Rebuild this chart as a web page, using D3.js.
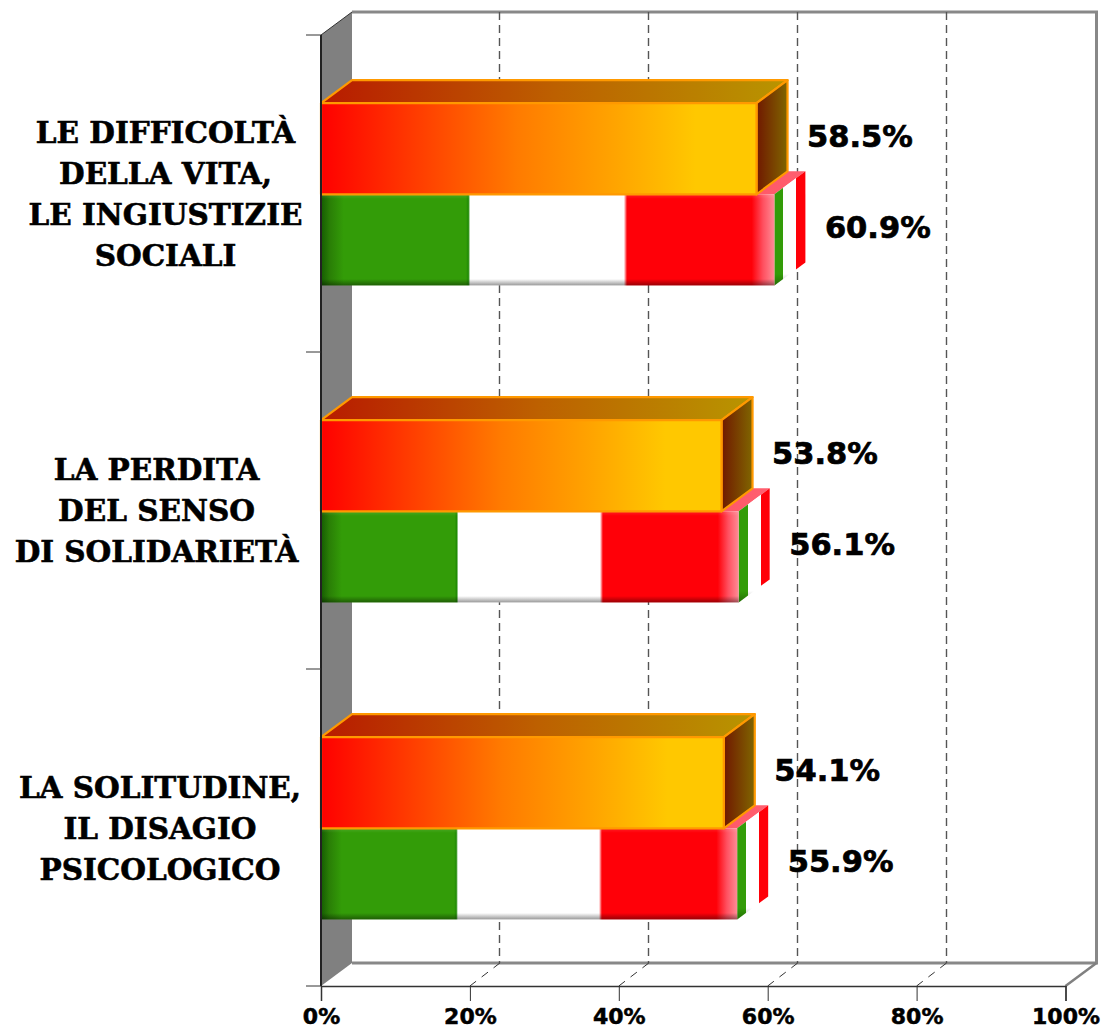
<!DOCTYPE html>
<html><head><meta charset="utf-8">
<script src="https://cdnjs.cloudflare.com/ajax/libs/d3/7.8.5/d3.min.js"></script>
<style>html,body{margin:0;padding:0;background:#fff}svg{display:block}</style>
</head><body><svg id="c" width="1103" height="1032"></svg>
<script>
const categories = ["LE DIFFICOLTÀ|DELLA VITA,|LE INGIUSTIZIE|SOCIALI", "LA PERDITA|DEL SENSO|DI SOLIDARIETÀ", "LA SOLITUDINE,|IL DISAGIO|PSICOLOGICO"];
const orangeValues = [58.5, 53.8, 54.1];
const flagValues = [60.9, 56.1, 55.9];
const tickValues = [0, 20, 40, 60, 80, 100];

const svg = d3.select("#c");
const x = d3.scaleLinear().domain([0, 100]).range([321, 1065.5]);
const y = d3.scaleBand().domain(categories).range([35, 986]);
const inner = d3.scaleBand().domain(["orange", "flag"]).range([0.8, y.step() + 0.8]).paddingInner(0).paddingOuter(0.74);
const dx = 31, dy = -23;
const defs = svg.append("defs");

function grad(id, stops, v) {
  const g = defs.append("linearGradient").attr("id", id).attr("x1", 0).attr("y1", 0).attr("x2", v ? 0 : 1).attr("y2", v ? 1 : 0);
  stops.forEach(s => g.append("stop").attr("offset", s[0]).attr("stop-color", s[1]).attr("stop-opacity", s[2] === undefined ? 1 : s[2]));
}
const G = "#339c08", R = "#ff0008";
grad("oFront", [[0, "#ff0000"], [0.45, "#ff7b00"], [0.68, "#ffa500"], [0.86, "#ffc800"], [1, "#ffc800"]]);
grad("oTop", [[0, "#b81a00"], [0.5, "#bd6000"], [1, "#b89500"]]);
grad("oSide", [[0, "#701800"], [1, "#806600"]]);
grad("flag", [[0, "#155c02"], [0.02, "#2a7f06"], [0.05, G], [0.32, G], [0.325, "#1f8a04"], [0.329, "#fff"],
  [0.668, "#fff"], [0.675, R], [0.95, R], [0.975, "#ff5060"], [1, "#ff8c96"]]);
grad("flagShade", [[0, "#fff", 0.12], [0.05, "#fff", 0], [0.93, "#000", 0], [1, "#000", 0.4]], true);
grad("flagSide", [[0, G], [0.29, G], [0.29, "#fff"], [0.71, "#fff"], [0.71, R], [1, R]]);
grad("sideShade", [[0, "#000", 0], [0.9, "#000", 0], [1, "#000", 0.3]], true);
grad("flagTop", [[0, "#ff5a68"], [0.6, "#ff4050"], [1, "#ff6070"]]);

// walls
const W0 = x(0), W1 = x(100), T = y.range()[0], B = y.range()[1];
svg.append("polygon").attr("points", [[W0, T], [W0 + dx, T + dy], [W0 + dx, B + dy], [W0, B]].join(" ")).attr("fill", "#808080");
svg.append("path").attr("d", `M${W0 + dx},${B + dy}H${W1 + dx}V${T + dy}H${W0 + dx}`).attr("fill", "none").attr("stroke", "#888").attr("stroke-width", 3);
svg.append("line").attr("x1", W1).attr("y1", B).attr("x2", W1 + dx).attr("y2", B + dy).attr("stroke", "#808080").attr("stroke-width", 2.5);
svg.append("line").attr("x1", W0).attr("y1", T).attr("x2", W0 + dx).attr("y2", T + dy).attr("stroke", "#333").attr("stroke-width", 1);

// grid
const gridVals = tickValues.filter(d => d > 0 && d < 100);
svg.append("g").selectAll("path").data(gridVals).join("path")
  .attr("d", d => `M${Math.round(x(d) + dx - 1) - 0.5},${T + dy}V${B + dy}`)
  .attr("stroke", "#555").attr("stroke-width", 1.4).attr("stroke-dasharray", "8,5").attr("fill", "none");
svg.append("g").selectAll("path").data(gridVals).join("path")
  .attr("d", d => `M${x(d) + dx - 1},${B + dy}L${x(d)},${B}`)
  .attr("stroke", "#333").attr("stroke-width", 1).attr("stroke-dasharray", "8,7").attr("fill", "none");

// bars
const rows = categories.map((c, i) => ({c, o: orangeValues[i], f: flagValues[i]}));
const g = svg.append("g").selectAll("g").data(rows).join("g");
g.each(function(d) {
  const s = d3.select(this), y0 = y(d.c);
  const fy = y0 + inner("flag"), h = inner.bandwidth(), fx = x(d.f);
  s.append("polygon").attr("points", [[W0, fy], [W0 + dx, fy + dy], [fx + dx, fy + dy], [fx, fy]].join(" ")).attr("fill", "url(#flagTop)");
  const sidePts = [[fx, fy], [fx + dx, fy + dy], [fx + dx, fy + dy + h], [fx, fy + h]].join(" ");
  s.append("polygon").attr("points", sidePts).attr("fill", "url(#flagSide)");
  s.append("polygon").attr("points", sidePts).attr("fill", "url(#sideShade)");
  s.append("rect").attr("x", W0).attr("y", fy).attr("width", fx - W0).attr("height", h).attr("fill", "url(#flag)");
  s.append("rect").attr("x", W0).attr("y", fy).attr("width", fx - W0).attr("height", h).attr("fill", "url(#flagShade)");
  const oy = y0 + inner("orange"), ox = x(d.o);
  const st = {stroke: "#ff9900", "stroke-width": 2.2, "stroke-linejoin": "round"};
  const top = s.append("polygon").attr("points", [[W0, oy], [W0 + dx, oy + dy], [ox + dx, oy + dy], [ox, oy]].join(" ")).attr("fill", "url(#oTop)");
  const side = s.append("polygon").attr("points", [[ox, oy], [ox + dx, oy + dy], [ox + dx, oy + dy + h], [ox, oy + h]].join(" ")).attr("fill", "url(#oSide)");
  const front = s.append("rect").attr("x", W0).attr("y", oy).attr("width", ox - W0).attr("height", h).attr("fill", "url(#oFront)");
  [top, side, front].forEach(e => Object.entries(st).forEach(([k, v]) => e.attr(k, v)));
  const lab = (v, yy, ex) => s.append("text").attr("x", ex + 50.5).attr("y", yy)
    .attr("font-family", "'DejaVu Sans'").attr("font-weight", "bold").attr("font-size", 30.5)
    .attr("fill", "#000").attr("stroke", "#000").attr("stroke-width", 0.7).text(v.toFixed(1) + "%");
  lab(d.o, oy + h / 2 - 13 + 11, ox);
  lab(d.f, fy + h / 2 - 13 + 11, fx);
});

// front axis
svg.append("line").attr("x1", W0).attr("y1", T).attr("x2", W0).attr("y2", B).attr("stroke", "#222").attr("stroke-width", 2);
const bandEdges = y.domain().map(c => y(c)).concat([B]);
svg.append("g").selectAll("line").data(bandEdges).join("line")
  .attr("x1", 306).attr("x2", W0).attr("y1", d => d).attr("y2", d => d).attr("stroke", "#333").attr("stroke-width", 1);
const ax = svg.append("g").attr("transform", `translate(0,${B})`)
  .call(d3.axisBottom(x).tickValues(tickValues).tickFormat(d => d + "%").tickSize(15).tickPadding(7));
ax.select(".domain").attr("stroke", "#333").attr("stroke-width", 1.5);
ax.selectAll("line").attr("stroke", "#333");
ax.selectAll("text").attr("font-family", "'DejaVu Sans'").attr("font-weight", "bold").attr("font-size", 22).attr("fill", "#000").attr("stroke", "#000").attr("stroke-width", 0.5);

// category labels
const centers = [165.5, 156.5, 160];
const firstLineY = [143, 480, 798];
svg.append("g").selectAll("text").data(categories).join("text")
  .attr("font-family", "'DejaVu Serif'").attr("font-weight", "bold").attr("font-size", 29.5).attr("text-anchor", "middle")
  .attr("fill", "#000").attr("stroke", "#000").attr("stroke-width", 0.6)
  .each(function(c, i) {
    d3.select(this).selectAll("tspan").data(c.split("|")).join("tspan")
      .attr("x", centers[i]).attr("y", (l, j) => firstLineY[i] + j * 41).text(l => l);
  });
</script></body></html>
